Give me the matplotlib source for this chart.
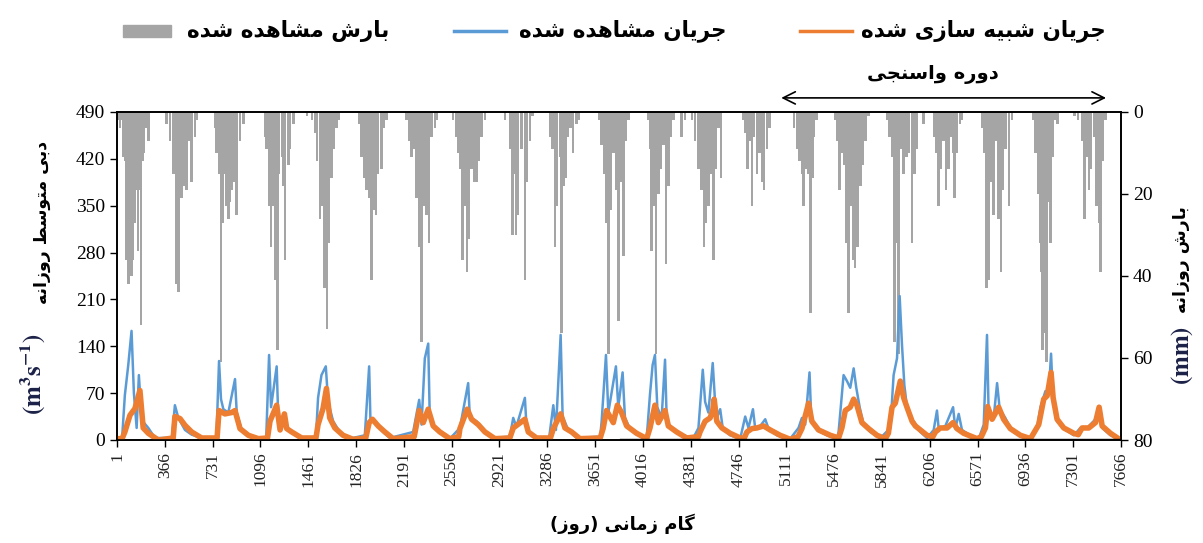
import numpy as np
import matplotlib.pyplot as plt
from matplotlib.lines import Line2D
from matplotlib.patches import Rectangle

# ---- Daten (aus der Abbildung geschaetzt) ----
# Niederschlag: Tag, Tiefe (mm)
rain_day = [5, 23, 36, 49, 61, 74, 87, 100, 112, 125, 138, 151, 163, 176, 184, 196, 209, 227, 240,
            380, 405, 431, 456, 469, 482, 494, 507, 533, 545, 571, 596, 609,
            749, 762, 780, 795, 805, 825, 838, 851, 864, 876, 897, 915, 940, 966,
            1131, 1144, 1162, 1177, 1195, 1208, 1225, 1238, 1259, 1271, 1284, 1309, 1322, 1348, 1450, 1488,
            1511, 1529, 1549, 1569, 1587, 1605, 1620, 1638, 1656, 1676, 1697,
            1849, 1867, 1885, 1906, 1923, 1944, 1962, 1977, 1995, 2020, 2038, 2058,
            2211, 2232, 2249, 2267, 2288, 2308, 2326, 2344, 2364, 2382, 2402, 2428, 2445,
            2568, 2588, 2606, 2624, 2639, 2657, 2675, 2690, 2708, 2726, 2746, 2766, 2784, 2810,
            2962, 3001, 3020, 3034, 3046, 3064, 3090, 3115, 3133, 3153, 3174,
            3311, 3326, 3344, 3362, 3383, 3395, 3408, 3428, 3446, 3464, 3484, 3510, 3530,
            3683, 3701, 3719, 3734, 3752, 3770, 3790, 3810, 3828, 3846, 3866, 3887, 3905,
            4058, 4070, 4083, 4096, 4116, 4134, 4152, 4172, 4192, 4210, 4228, 4249,
            4312, 4338, 4389, 4414, 4440, 4465, 4483, 4498, 4516, 4534, 4554, 4575, 4593, 4611,
            4779, 4797, 4815, 4830, 4848, 4866, 4886, 4906, 4924, 4942, 4963, 4983,
            5171, 5192, 5212, 5230, 5243, 5263, 5281, 5294, 5309, 5324, 5340,
            5485, 5502, 5518, 5536, 5553, 5569, 5587, 5604, 5620, 5637, 5655, 5676, 5696, 5714, 5739,
            5879, 5900, 5918, 5935, 5951, 5969, 5986, 6007, 6027, 6045, 6071, 6090, 6103, 6159,
            6241, 6256, 6274, 6292, 6312, 6330, 6348, 6363, 6384, 6394, 6414, 6435, 6452,
            6605, 6623, 6638, 6656, 6674, 6694, 6715, 6732, 6750, 6766, 6783, 6809, 6834,
            6995, 7013, 7031, 7046, 7056, 7066, 7081, 7097, 7112, 7127, 7148, 7166, 7183,
            7311, 7336, 7369, 7387, 7402, 7420, 7438, 7458, 7479, 7497, 7509, 7530, 7547]
rain_mm = [2, 4, 2, 11, 12, 36, 42, 38, 40, 36, 27, 19, 34, 19, 52, 12, 10, 4, 7,
           3, 7, 15, 42, 44, 15, 21, 18, 19, 7, 17, 6, 2,
           4, 10, 15, 61, 27, 15, 23, 26, 22, 19, 17, 25, 7, 3,
           6, 9, 23, 33, 23, 41, 58, 15, 11, 18, 36, 13, 9, 3, 1, 2,
           5, 12, 26, 23, 43, 53, 32, 16, 9, 4, 2,
           3, 11, 16, 19, 21, 41, 24, 25, 15, 14, 4, 2,
           2, 7, 11, 9, 21, 33, 56, 23, 25, 32, 6, 4, 2,
           2, 6, 10, 14, 36, 23, 39, 31, 14, 17, 17, 12, 6, 2,
           2, 9, 30, 15, 30, 25, 9, 41, 17, 7, 1,
           6, 9, 33, 23, 11, 54, 18, 16, 6, 4, 10, 3, 2,
           2, 8, 15, 27, 59, 24, 10, 19, 51, 17, 35, 7, 2,
           2, 9, 34, 23, 59, 20, 14, 8, 37, 18, 6, 2,
           6, 2, 2, 7, 14, 19, 33, 27, 23, 15, 36, 14, 4, 16,
           2, 5, 14, 7, 23, 6, 15, 10, 17, 19, 9, 4,
           4, 9, 12, 15, 23, 14, 15, 49, 16, 6, 2,
           2, 7, 19, 10, 13, 32, 49, 23, 36, 38, 33, 18, 13, 7, 1,
           2, 6, 11, 56, 32, 59, 9, 15, 11, 10, 32, 15, 9, 3,
           6, 10, 23, 14, 7, 19, 14, 6, 10, 21, 10, 3, 2,
           4, 10, 43, 41, 17, 25, 7, 26, 39, 19, 9, 23, 2,
           2, 10, 20, 32, 39, 58, 54, 61, 22, 32, 11, 2, 3,
           1, 2, 7, 26, 11, 19, 14, 6, 23, 27, 39, 12, 2]

# Abfluss beobachtet: Tag, Q (m3/s)
obs_day = [1, 40, 61, 87, 112, 130, 151, 168, 189, 240, 291,
           420, 443, 469, 520, 571, 647,
           760, 780, 795, 813, 851, 902, 915, 953, 1055,
           1140, 1162, 1177, 1220, 1233, 1271, 1309, 1411,
           1520, 1536, 1562, 1595, 1613, 1651, 1702, 1778,
           1893, 1926, 1936, 1956, 2007, 2084,
           2262, 2308, 2326, 2351, 2377, 2389, 2428, 2491, 2542,
           2619, 2682, 2695, 2746, 2797, 2873,
           3000, 3026, 3050, 3115, 3128, 3166, 3230,
           3300, 3332, 3352, 3388, 3403, 3446, 3510,
           3690, 3701, 3734, 3752, 3810, 3828, 3861, 3879, 3917, 3994, 4045,
           4070, 4090, 4108, 4126, 4159, 4185, 4198, 4249, 4325,
           4401, 4440, 4473, 4491, 4516, 4549, 4567, 4580, 4606, 4626, 4682, 4759,
           4797, 4822, 4856, 4873, 4912, 4950, 4975, 5039, 5141,
           5204, 5230, 5255, 5288, 5301, 5345, 5421, 5497,
           5510, 5548, 5574, 5599, 5625, 5645, 5671, 5701, 5752, 5829,
           5905, 5930, 5956, 5976, 5994, 6012, 6032, 6071, 6083, 6134, 6185,
           6236, 6261, 6274, 6325, 6384, 6401, 6427, 6452, 6516, 6580,
           6618, 6643, 6656, 6694, 6720, 6740, 6783, 6821, 6898, 6962,
           7025, 7051, 7089, 7114, 7132, 7148, 7178, 7229, 7306,
           7356, 7407, 7471, 7499, 7522, 7586, 7662]
obs_q = [3, 3, 67, 112, 163, 70, 18, 97, 30, 18, 3,
         3, 52, 33, 15, 8, 3,
         3, 118, 61, 46, 41, 91, 41, 15, 2,
         3, 127, 49, 110, 28, 33, 17, 3,
         5, 63, 97, 110, 57, 28, 12, 2,
         7, 110, 28, 31, 17, 3,
         12, 60, 23, 122, 144, 33, 18, 7, 2,
         18, 85, 33, 28, 15, 3,
         5, 33, 20, 63, 18, 7, 2,
         3, 52, 15, 157, 35, 15, 3,
         5, 28, 127, 41, 110, 49, 101, 33, 17, 7, 3,
         68, 112, 127, 49, 33, 120, 28, 15, 7,
         3, 18, 105, 57, 41, 115, 57, 33, 46, 17, 7, 2,
         35, 18, 46, 18, 21, 31, 17, 7, 2,
         18, 33, 23, 101, 33, 15, 7, 2,
         12, 97, 88, 78, 107, 78, 49, 23, 12, 3,
         18, 97, 122, 215, 142, 82, 49, 26, 28, 12, 3,
         15, 44, 17, 21, 49, 17, 39, 15, 7, 2,
         23, 157, 35, 33, 85, 46, 33, 18, 7, 2,
         18, 49, 73, 68, 129, 57, 28, 17, 7,
         18, 18, 31, 46, 18, 7, 0]

# Abfluss simuliert: Tag, Q (m3/s)
sim_day = [1, 40, 61, 100, 138, 176, 201, 240, 316,
           430, 443, 482, 520, 571, 647,
           765, 780, 825, 876, 902, 940, 1004, 1080,
           1150, 1169, 1220, 1246, 1279, 1297, 1335, 1411,
           1520, 1536, 1574, 1600, 1625, 1664, 1727, 1804,
           1900, 1926, 1951, 1995, 2046, 2109,
           2270, 2308, 2339, 2377, 2415, 2466, 2542,
           2610, 2619, 2675, 2708, 2759, 2810, 2886,
           3000, 3026, 3115, 3141, 3204,
           3310, 3332, 3388, 3421, 3472, 3535,
           3690, 3712, 3738, 3790, 3821, 3853, 3892, 3968, 4045,
           4070, 4108, 4134, 4185, 4210, 4274, 4350,
           4440, 4452, 4491, 4529, 4549, 4560, 4580, 4619, 4682, 4759,
           4790, 4810, 4848, 4886, 4937, 4988, 5064, 5141,
           5200, 5230, 5281, 5306, 5357, 5447, 5510,
           5535, 5561, 5599, 5625, 5650, 5688, 5739, 5803, 5867,
           5890, 5918, 5943, 5981, 6007, 6032, 6071, 6096, 6134, 6185, 6230,
           6249, 6287, 6338, 6384, 6414, 6465, 6567,
           6600, 6631, 6648, 6682, 6732, 6770, 6821, 6898, 6975,
           7038, 7076, 7102, 7132, 7148, 7178, 7229, 7306, 7340,
           7369, 7420, 7471, 7499, 7522, 7586, 7662]
sim_q = [2, 2, 12, 37, 47, 74, 18, 10, 0,
         3, 35, 32, 22, 12, 3,
         3, 44, 39, 41, 44, 17, 7, 2,
         3, 28, 52, 15, 39, 17, 12, 3,
         3, 23, 47, 77, 33, 18, 7, 1,
         3, 26, 31, 21, 12, 2,
         5, 44, 26, 46, 21, 12, 2,
         5, 17, 46, 31, 23, 12, 2,
         3, 18, 31, 12, 3,
         3, 17, 39, 18, 12, 2,
         3, 17, 44, 26, 52, 41, 21, 10, 2,
         18, 52, 26, 44, 21, 12, 3,
         5, 12, 28, 33, 44, 61, 28, 18, 10, 3,
         3, 12, 17, 18, 21, 15, 7, 1,
         5, 17, 55, 28, 15, 7, 3,
         18, 44, 49, 61, 52, 26, 17, 7, 2,
         10, 49, 55, 88, 63, 49, 28, 21, 15, 7, 5,
         12, 18, 18, 26, 17, 10, 2,
         5, 18, 50, 31, 49, 31, 17, 7, 2,
         23, 61, 66, 101, 63, 31, 18, 10, 8,
         18, 18, 26, 49, 21, 10, 0]

x_ticks = list(range(1, 7667, 365))
q_ticks = [0, 70, 140, 210, 280, 350, 420, 490]
p_ticks = [0, 20, 40, 60, 80]
calib_start, calib_end = 5051, 7573

# ---- persische Schrift: einfache Formung (Praesentationsformen) ----
FORMS = {
    'ا': ('\uFE8D', '\uFE8E', None, None),
    'ب': ('\uFE8F', '\uFE90', '\uFE91', '\uFE92'),
    'ت': ('\uFE95', '\uFE96', '\uFE97', '\uFE98'),
    'ج': ('\uFE9D', '\uFE9E', '\uFE9F', '\uFEA0'),
    'د': ('\uFEA9', '\uFEAA', None, None),
    'ر': ('\uFEAD', '\uFEAE', None, None),
    'ز': ('\uFEAF', '\uFEB0', None, None),
    'س': ('\uFEB1', '\uFEB2', '\uFEB3', '\uFEB4'),
    'ش': ('\uFEB5', '\uFEB6', '\uFEB7', '\uFEB8'),
    'ط': ('\uFEC1', '\uFEC2', '\uFEC3', '\uFEC4'),
    'گ': ('\uFB92', '\uFB93', '\uFB94', '\uFB95'),
    'م': ('\uFEE1', '\uFEE2', '\uFEE3', '\uFEE4'),
    'ن': ('\uFEE5', '\uFEE6', '\uFEE7', '\uFEE8'),
    'و': ('\uFEED', '\uFEEE', None, None),
    'ه': ('\uFEE9', '\uFEEA', '\uFEEB', '\uFEEC'),
    'ی': ('\uFBFC', '\uFBFD', '\uFBFE', '\uFBFF'),
}


def fa(s):
    """Persischen Text in sichtbare Reihenfolge mit verbundenen Formen bringen."""
    out = []
    for i, c in enumerate(s):
        if c not in FORMS:
            out.append(c)
            continue
        prev = s[i - 1] if i > 0 else ''
        nxt = s[i + 1] if i + 1 < len(s) else ''
        jp = prev in FORMS and FORMS[prev][2] is not None
        jn = FORMS[c][2] is not None and nxt in FORMS
        iso, fin, ini, med = FORMS[c]
        if jp and jn:
            out.append(med)
        elif jp:
            out.append(fin)
        elif jn:
            out.append(ini)
        else:
            out.append(iso)
    vis = ''.join(reversed(out))
    return vis.translate(str.maketrans('()', ')('))


plt.rcParams['mathtext.fontset'] = 'stix'
W, H = 1203, 543
fig = plt.figure(figsize=(W / 100, H / 100), dpi=100)
ax = fig.add_axes([117 / W, 1 - 440 / H, 1004 / W, 328 / H])
ax2 = ax.twinx()
ax.set_zorder(2)
ax2.set_zorder(1)
ax.patch.set_visible(False)

gray = '#a5a5a5'
blue = '#5b9bd5'
orange = '#ed7d31'

# Niederschlag (umgekehrte Achse)
ax2.bar(rain_day, rain_mm, width=19, color=gray, linewidth=0, antialiased=False)
ax2.set_ylim(80, 0)
ax2.set_yticks(p_ticks)

# Abfluss
ax.plot(obs_day, obs_q, color=blue, lw=1.8)
ax.plot(sim_day, sim_q, color=orange, lw=4)
ax.plot([3841, 7666], [2, 2], color='black', lw=1.0)

ax.set_xlim(1, 7666)
ax.set_ylim(0, 490)
ax.set_yticks(q_ticks)
ax.set_xticks(x_ticks)
ax.set_xticklabels([str(t) for t in x_ticks], rotation=90, fontsize=12.5,
                   family='Liberation Serif', color='#222222')
for lab in ax.get_yticklabels():
    lab.set_family('Liberation Serif')
    lab.set_fontsize(14)
for lab in ax2.get_yticklabels():
    lab.set_family('Liberation Serif')
    lab.set_fontsize(14)
ax.tick_params(direction='out', length=5, width=1)
ax2.tick_params(direction='out', length=5, width=1)
for a in (ax, ax2):
    for sp in a.spines.values():
        sp.set_linewidth(1.2)

# Kalibrierungszeitraum
ax.annotate('', xy=(calib_start, 1.043), xytext=(calib_end, 1.043),
            xycoords=('data', 'axes fraction'), textcoords=('data', 'axes fraction'),
            arrowprops=dict(arrowstyle='<->', color='black', lw=1.2, mutation_scale=22),
            annotation_clip=False)
fig.text(933 / W, 1 - 75 / H, fa('دوره واسنجی'), ha='center', va='center',
         fontsize=14, fontweight='bold', family='DejaVu Sans')

# Achsentitel
fig.text(622 / W, 1 - 524 / H, fa('گام زمانی (روز)'), ha='center', va='center',
         fontsize=13, fontweight='bold', family='DejaVu Sans')
fig.text(42 / W, 1 - 222 / H, fa('دبی متوسط روزانه'), ha='center', va='center',
         rotation=90, fontsize=12.5, fontweight='bold', family='DejaVu Sans')
fig.text(33 / W, 1 - 374 / H, r'$\mathbf{(m^{3}s^{-1})}$', ha='center', va='center',
         rotation=90, fontsize=18, color='#1c2247')
fig.text(1181 / W, 1 - 260 / H, fa('بارش روزانه'), ha='center', va='center',
         rotation=90, fontsize=12.5, fontweight='bold', family='DejaVu Sans')
fig.text(1182 / W, 1 - 355 / H, r'$\mathbf{(mm)}$', ha='center', va='center',
         rotation=90, fontsize=18, color='#1c2247')

# Legende (von Hand, rechts nach links)
ly = 1 - 31 / H
fig.add_artist(Rectangle((123 / W, 1 - 37 / H), 48 / W, 12 / H, color=gray,
                         transform=fig.transFigure))
fig.text(187 / W, ly, fa('بارش مشاهده شده'), ha='left', va='center',
         fontsize=15.5, fontweight='bold', family='DejaVu Sans')
fig.add_artist(Line2D([454 / W, 506 / W], [ly, ly], color=blue, lw=2.5,
                      transform=fig.transFigure))
fig.text(519 / W, ly, fa('جریان مشاهده شده'), ha='left', va='center',
         fontsize=15.5, fontweight='bold', family='DejaVu Sans')
fig.add_artist(Line2D([800 / W, 852 / W], [ly, ly], color=orange, lw=2.5,
                      transform=fig.transFigure))
fig.text(861 / W, ly, fa('جریان شبیه سازی شده'), ha='left', va='center',
         fontsize=15.5, fontweight='bold', family='DejaVu Sans')

fig.savefig('out.png', dpi=100)
